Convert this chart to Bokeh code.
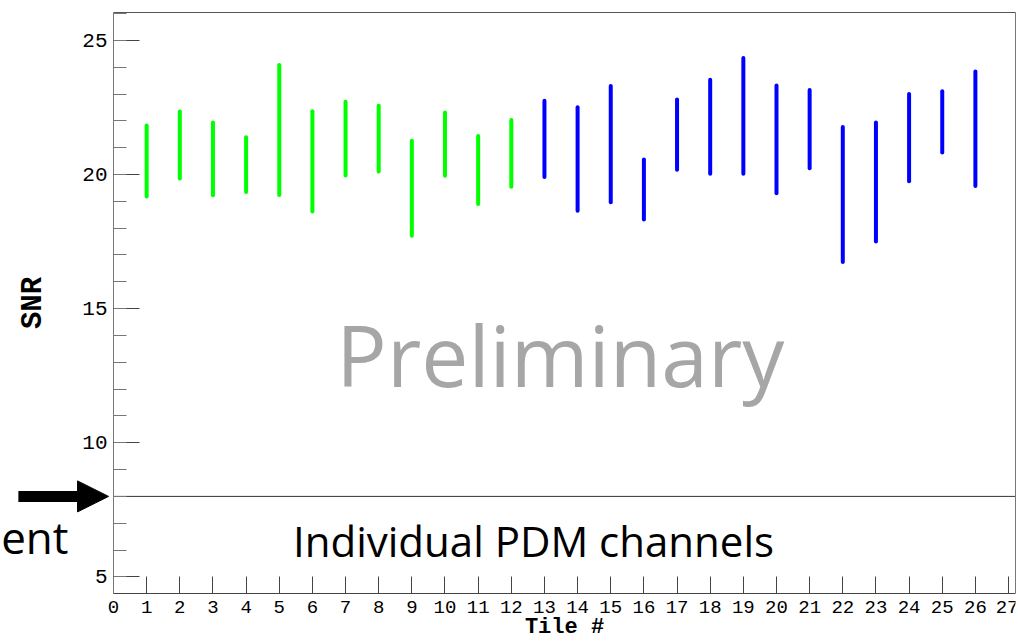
from bokeh.plotting import figure
from bokeh.models import (Range1d, SingleIntervalTicker, FixedTicker, LinearAxis, Label, Arrow,
                          NormalHead, ColumnDataSource)
from bokeh.embed import file_html
from bokeh.resources import INLINE

# Data
tiles_a = [1, 2, 3, 4, 5, 6, 7, 8, 9, 10, 11, 12]
low_a = [19.18, 19.85, 19.23, 19.35, 19.24, 18.62, 19.96, 20.11, 17.72, 19.95, 18.9, 19.54]
high_a = [21.83, 22.35, 21.94, 21.39, 24.08, 22.36, 22.71, 22.56, 21.26, 22.31, 21.44, 22.03]

tiles_b = [13, 14, 15, 16, 17, 18, 19, 20, 21, 22, 23, 24, 25, 26]
low_b = [19.91, 18.65, 18.97, 18.32, 20.18, 20.03, 20.03, 19.3, 20.23, 16.74, 17.5, 19.75, 20.82, 19.57]
high_b = [22.75, 22.51, 23.3, 20.56, 22.8, 23.53, 24.34, 23.32, 23.15, 21.77, 21.94, 23.0, 23.1, 23.84]

threshold = 8
x_axis_start = 0
x_axis_end = 27.21
x_view_start = -3.409          # room left of the axis for the arrow and side text
y_start, y_end = 4.38, 26.04
y_view_start = 2.516           # room below the axis for its labels

p = figure(width=1018, height=643, output_backend="svg", toolbar_location=None,
           x_range=Range1d(x_view_start, x_axis_end), y_range=Range1d(y_view_start, y_end),
           x_axis_location=None, y_axis_location=None,
           min_border_left=0, min_border_right=3, min_border_top=12, min_border_bottom=0)
p.xgrid.visible = False
p.ygrid.visible = False
p.outline_line_color = None
p.background_fill_color = "white"
p.border_fill_color = "white"

AX = "#444444"

# Bottom axis, fixed at y = y_start
xax = LinearAxis(ticker=SingleIntervalTicker(interval=1, num_minor_ticks=0),
                 bounds=(x_axis_start, x_axis_end), fixed_location=y_start)
xax.axis_line_color = AX
xax.major_tick_line_color = AX
xax.major_tick_in = 17
xax.major_tick_out = 0
xax.minor_tick_line_color = None
xax.major_label_text_font = "Liberation Mono"
xax.major_label_text_font_size = "19px"
xax.major_label_text_color = "black"
xax.major_label_standoff = 7
p.add_layout(xax, "below")

# Left axis, fixed at x = 0
yax = LinearAxis(ticker=SingleIntervalTicker(interval=5, num_minor_ticks=5),
                 bounds=(y_start, y_end), fixed_location=x_axis_start)
yax.axis_line_color = "#777777"
yax.major_tick_line_color = AX
yax.minor_tick_line_color = "#777777"
yax.major_tick_in = 26
yax.major_tick_out = 0
yax.minor_tick_in = 13
yax.minor_tick_out = 0
yax.major_label_text_font = "Liberation Mono"
yax.major_label_text_font_size = "21px"
yax.major_label_text_color = "black"
yax.major_label_standoff = 6
yax.axis_label = "SNR"
yax.axis_label_text_font = "Liberation Mono"
yax.axis_label_text_font_style = "bold"
yax.axis_label_text_font_size = "29px"
yax.axis_label_text_color = "black"
yax.axis_label_standoff = 29
p.add_layout(yax, "left")

# Top and right frame edges
top = LinearAxis(ticker=FixedTicker(ticks=[]), bounds=(x_axis_start, x_axis_end))
top.axis_line_color = "#555555"
top.major_label_text_font_size = "0px"
p.add_layout(top, "above")
right = LinearAxis(ticker=FixedTicker(ticks=[]), bounds=(y_start, y_end))
right.axis_line_color = "#777777"
right.major_label_text_font_size = "0px"
p.add_layout(right, "right")

# x-axis title, centred under the axis
p.add_layout(Label(x=(x_axis_start + x_axis_end) / 2, y=3.1, text="Tile #", text_font="Liberation Mono",
                   text_font_style="bold", text_font_size="22px", text_color="black",
                   text_align="center", text_baseline="middle"))

# Threshold line
p.line(x=[x_axis_start, x_axis_end], y=[threshold, threshold], line_color="#333333", line_width=1)

# Bars
src_a = ColumnDataSource(dict(x=tiles_a, y0=low_a, y1=high_a))
src_b = ColumnDataSource(dict(x=tiles_b, y0=low_b, y1=high_b))
p.segment(x0="x", y0="y0", x1="x", y1="y1", source=src_a, line_color="#00ff00", line_width=4, line_cap="round")
p.segment(x0="x", y0="y0", x1="x", y1="y1", source=src_b, line_color="#0000ff", line_width=4, line_cap="round")

# Texts
p.add_layout(Label(x=13.48, y=13.29, text="Preliminary", text_font="Open Sans", text_font_size="84px",
                   text_color="#a6a6a6", text_align="center", text_baseline="middle"))
p.add_layout(Label(x=12.67, y=6.36, text="Individual PDM channels", text_font="Open Sans",
                   text_font_size="42px", text_color="black", text_align="center", text_baseline="alphabetic"))
p.add_layout(Label(x=x_view_start + 0.02, y=6.5, text="ent", text_font="Open Sans", text_font_size="44px",
                   text_color="black", text_align="left", text_baseline="alphabetic"))

# Arrow
p.add_layout(Arrow(x_start=-2.87, y_start=threshold, x_end=-0.15, y_end=threshold,
                   line_color="black", line_width=11,
                   end=NormalHead(size=31, fill_color="black", line_color="black")))

open("out.html", "w").write(file_html(p, INLINE))
